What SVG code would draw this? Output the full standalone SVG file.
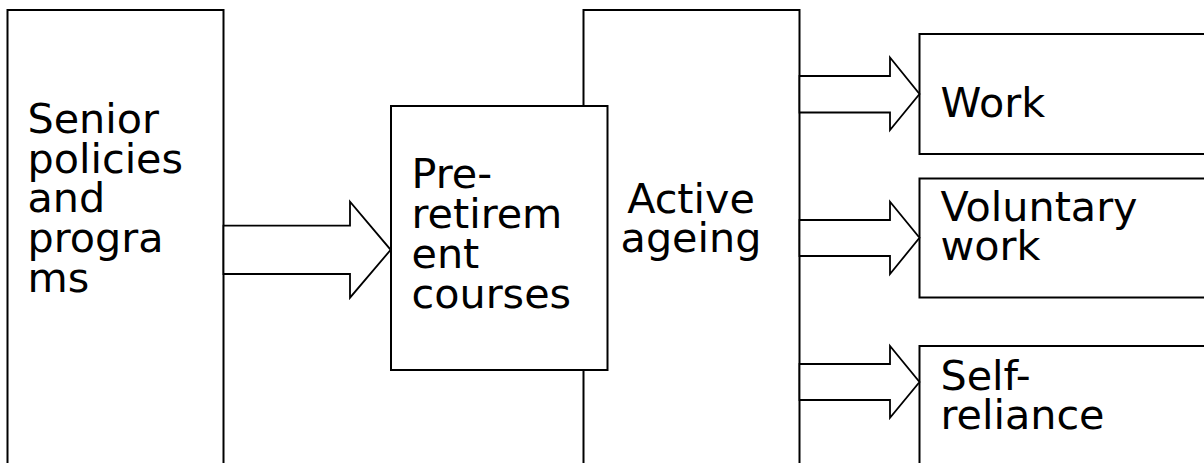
<svg xmlns="http://www.w3.org/2000/svg" width="1204" height="463" viewBox="0 0 1204 463">
<style>
.box{fill:#fff;stroke:#000;stroke-width:2}
.arr{fill:#fff;stroke:#000;stroke-width:1.8;stroke-linejoin:miter}
text{font-family:"DejaVu Sans",Verdana,sans-serif;font-size:41.3px;fill:#000}
</style>
<rect width="1204" height="463" fill="#fff"/>
<g id="senior">
<rect class="box" x="7.5" y="10" width="216" height="470"/>
<text><tspan x="27.5" y="133">Senior</tspan><tspan x="27.5" y="172.5">policies</tspan><tspan x="27.5" y="212">and</tspan><tspan x="27.5" y="252">progra</tspan><tspan x="27.5" y="292">ms</tspan></text>
</g>
<g id="active">
<rect class="box" x="583.5" y="10" width="216" height="470"/>
<text text-anchor="middle"><tspan x="691" y="213">Active</tspan><tspan x="691" y="252">ageing</tspan></text>
</g>
<g id="preretirement">
<rect class="box" x="391" y="106" width="216.5" height="264"/>
<text><tspan x="411.5" y="188">Pre-</tspan><tspan x="411.5" y="228">retirem</tspan><tspan x="411.5" y="268">ent</tspan><tspan x="411.5" y="308">courses</tspan></text>
</g>
<g id="work">
<rect class="box" x="919.5" y="34" width="300" height="120"/>
<text x="940.5" y="116.5">Work</text>
</g>
<g id="voluntary">
<rect class="box" x="919.5" y="178.5" width="300" height="119"/>
<text><tspan x="940.5" y="220.5">Voluntary</tspan><tspan x="940.5" y="260">work</tspan></text>
</g>
<g id="selfreliance">
<rect class="box" x="919.5" y="346" width="300" height="140"/>
<text><tspan x="940.5" y="390">Self-</tspan><tspan x="940.5" y="428.5">reliance</tspan></text>
</g>
<g id="connectors">
<polygon class="arr" points="223.5,225.7 350,225.7 350,201.7 390.7,249.8 350,297.7 350,274 223.5,274"/>
<polygon class="arr" points="799.5,76 890,76 890,57.5 919.5,94 890,130 890,112.5 799.5,112.5"/>
<polygon class="arr" points="799.5,220 890,220 890,201.7 919.5,237.8 890,274 890,256 799.5,256"/>
<polygon class="arr" points="799.5,364 890,364 890,346 919.5,382 890,417.7 890,400 799.5,400"/>
</g>
</svg>
